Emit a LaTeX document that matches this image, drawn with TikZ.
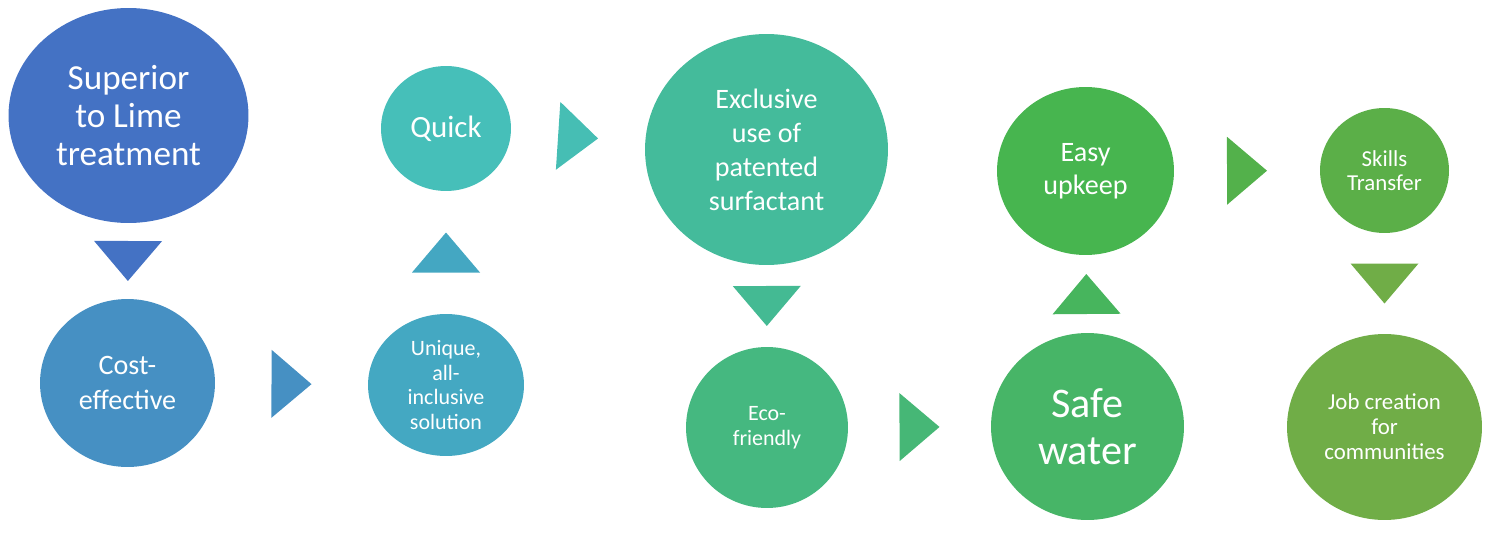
\documentclass[tikz,border=0pt]{standalone}
\usepackage{fontspec}
\setmainfont{Carlito}
\usetikzlibrary{shapes.geometric}

\definecolor{cA}{HTML}{4472C4}
\definecolor{cB}{HTML}{4690C3}
\definecolor{cC}{HTML}{44A8C2}
\definecolor{cD}{HTML}{46BFB9}
\definecolor{cE}{HTML}{44BB9B}
\definecolor{cF}{HTML}{45B880}
\definecolor{cG}{HTML}{47B567}
\definecolor{cH}{HTML}{47B54F}
\definecolor{cI}{HTML}{5BAF48}
\definecolor{cJ}{HTML}{70AD47}

\begin{document}
\begin{tikzpicture}[x=0.02cm,y=-0.02cm,
  bubble/.style={ellipse,text=white,align=center},
  tri/.pic={\fill (-20,-34) -- (20,0) -- (-20,34) -- cycle;}]
\tikzstyle{every node}+=[inner sep=0pt]
\useasboundingbox (0,0) rectangle (1491,544);
% circles
\node [bubble,fill=cA,minimum width=4.8cm,minimum height=4.3cm,font=\fontsize{20}{21.6}\selectfont] (sup) at (128.5,115.5) {Superior\\to Lime\\treatment};
\node [bubble,fill=cB,minimum width=3.5cm,minimum height=3.36cm,font=\fontsize{16}{19.9}\selectfont] (cost) at (127.5,383) {Cost-\\effective};
\node [bubble,fill=cC,minimum width=3.12cm,minimum height=2.84cm,font=\fontsize{12.5}{14.2}\selectfont] (uniq) at (446,385) {Unique,\\all-\\inclusive\\solution};
\node [bubble,fill=cD,minimum width=2.6cm,minimum height=2.5cm,font=\fontsize{17.6}{20}\selectfont] (quick) at (446,128.5) {Quick};
\node [bubble,fill=cE,minimum width=4.86cm,minimum height=4.62cm,font=\fontsize{16}{19.3}\selectfont] (excl) at (766.5,149.5) {Exclusive\\use of\\patented\\surfactant};
\node [bubble,fill=cF,minimum width=3.24cm,minimum height=3.22cm,font=\fontsize{12.5}{14.2}\selectfont] (eco) at (767,427.5) {Eco-\\friendly};
\node [bubble,fill=cG,minimum width=3.86cm,minimum height=3.74cm,font=\fontsize{24}{26.7}\selectfont] (safe) at (1087.5,426.5) {Safe\\water};
\node [bubble,fill=cH,minimum width=3.54cm,minimum height=3.36cm,font=\fontsize{16}{18.8}\selectfont] (easy) at (1085.5,171) {Easy\\upkeep};
\node [bubble,fill=cI,minimum width=2.58cm,minimum height=2.5cm,font=\fontsize{13}{13.7}\selectfont] (skill) at (1384.5,170.5) {Skills\\Transfer};
\node [bubble,fill=cJ,minimum width=3.9cm,minimum height=3.72cm,font=\fontsize{13}{14.2}\selectfont] (job) at (1384.5,427) {Job creation\\for\\communities};
% arrows
\path (sup) -- pic[pos=.5,sloped,allow upside down,fill=cA] {tri} (cost);
\path (cost) -- pic[pos=.5,sloped,allow upside down,fill=cB] {tri} (uniq);
\path (uniq) -- pic[pos=.5,sloped,allow upside down,fill=cC!95!cB] {tri} (quick);
\path (quick) -- pic[pos=.5,sloped,allow upside down,fill=cD!85!cE] {tri} (excl);
\path (excl) -- pic[pos=.5,sloped,allow upside down,fill=cE!70!cF] {tri} (eco);
\path (eco) -- pic[pos=.5,sloped,allow upside down,fill=cF!60!cG] {tri} (safe);
\path (safe) -- pic[pos=.5,sloped,allow upside down,fill=cG!60!cH] {tri} (easy);
\path (easy) -- pic[pos=.5,sloped,allow upside down,fill=cH!40!cI] {tri} (skill);
\path (skill) -- pic[pos=.5,sloped,allow upside down,fill=cJ] {tri} (job);
\end{tikzpicture}
\end{document}
